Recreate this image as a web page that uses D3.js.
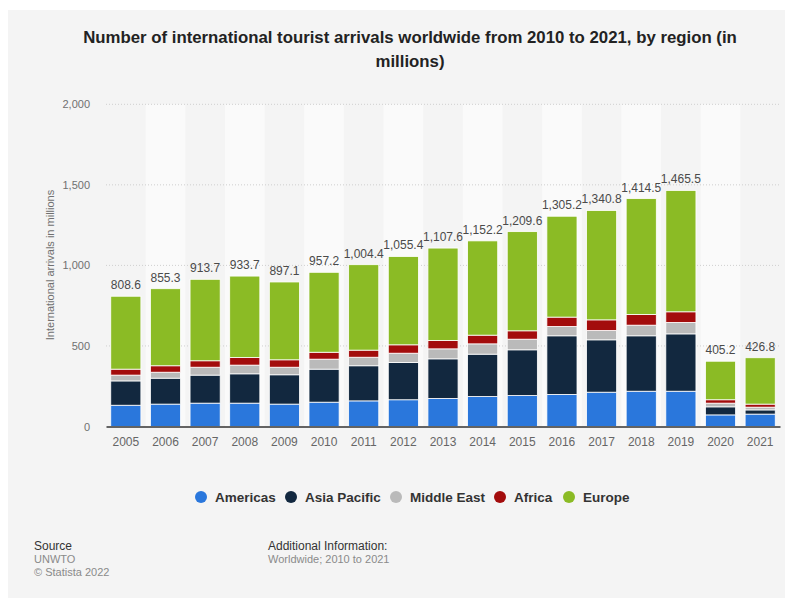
<html>
<head>
<style type="text/css">
	body { margin: 0; background: #fff; }
	.narrow { font-family: "Liberation Sans Narrow", "Arial Narrow", "Liberation Sans", Arial, sans-serif; }
	.num { font-family: "Liberation Sans", Arial, sans-serif; }
</style>
<script src="https://d3js.org/d3.v7.min.js"></script>
</head>
<body>
<script type="text/javascript">

	var years = ['2005', '2006', '2007', '2008', '2009', '2010', '2011', '2012', '2013',
		'2014', '2015', '2016', '2017', '2018', '2019', '2020', '2021'];
	var regions = ['Americas', 'Asia Pacific', 'Middle East', 'Africa', 'Europe'];
	var colors = ['#2a77dc', '#12283f', '#bababa', '#a30c0c', '#8bbb25'];

	var americas    = [132, 139, 145, 145, 139, 151, 159, 166, 174, 186, 192, 199, 213, 219, 219, 72, 77];
	var asiaPacific = [151, 161, 174, 182, 182, 205, 218, 231, 246, 263, 284, 364, 325, 344, 356, 50, 26];
	var middleEast  = [36, 37, 49, 54, 47, 62, 53, 58, 62, 64, 66, 58, 58, 66, 71, 23, 17];
	var africa      = [37, 40, 40, 47, 46, 43, 44, 52, 52, 54, 52, 58, 66, 66, 66, 21, 19];
	var europe      = [452.6, 478.3, 505.7, 505.7, 483.1, 496.2, 530.4, 548.4, 573.6, 585.2,
		615.6, 626.2, 678.8, 719.5, 753.5, 239.2, 287.8];
	var totals      = ['808.6', '855.3', '913.7', '933.7', '897.1', '957.2', '1,004.4', '1,055.4',
		'1,107.6', '1,152.2', '1,209.6', '1,305.2', '1,340.8', '1,414.5', '1,465.5', '405.2', '426.8'];
	var yTicks = [0, 500, 1000, 1500, 2000];

	var width = 785, height = 598;
	var plotLeft = 106, plotRight = 780, plotTop = 104.3, plotBottom = 426.5;

	var table = years.map(function(y, i) {
		return { year: y, 'Americas': americas[i], 'Asia Pacific': asiaPacific[i],
			'Middle East': middleEast[i], 'Africa': africa[i], 'Europe': europe[i], label: totals[i] };
	});
	var series = d3.stack().keys(regions)(table);

	var x = d3.scaleBand().domain(years).range([plotLeft, plotRight]).paddingInner(0.24).paddingOuter(0.12);
	var y = d3.scaleLinear().domain([0, 2000]).range([plotBottom, plotTop]);
	var color = d3.scaleOrdinal().domain(regions).range(colors);

	var svg = d3.select('body').append('svg')
		.attr('width', width)
		.attr('height', height);

	svg.append('rect')
		.attr('x', 8).attr('y', 10)
		.attr('width', width - 8).attr('height', height - 10)
		.attr('fill', '#f4f4f4');

	// alternating column shading
	var step = x.step(), gap = step - x.bandwidth();
	svg.append('g').selectAll('rect')
		.data(years.filter(function(d, i) { return i % 2 == 1; }))
		.enter().append('rect')
			.attr('x', function(d) { return x(d) - gap / 2; })
			.attr('y', plotTop)
			.attr('width', step)
			.attr('height', plotBottom - plotTop)
			.attr('fill', '#fafafa');

	// grid
	svg.append('g').selectAll('line')
		.data(yTicks.slice(1))
		.enter().append('line')
			.attr('x1', plotLeft).attr('x2', plotRight)
			.attr('y1', function(d) { return y(d); })
			.attr('y2', function(d) { return y(d); })
			.attr('stroke', '#cfcfcf')
			.attr('stroke-width', 1)
			.attr('stroke-dasharray', '1,2');

	var yAxis = d3.axisLeft(y).tickValues(yTicks).tickSize(0).tickPadding(0).tickFormat(d3.format(','));
	var ga = svg.append('g')
		.attr('transform', 'translate(90, 0)')
		.call(yAxis);
	ga.select('.domain').remove();
	ga.selectAll('text')
		.attr('class', 'num')
		.attr('font-size', 11)
		.attr('fill', '#707070');

	svg.append('text')
		.attr('class', 'narrow')
		.attr('transform', 'translate(54, 265) rotate(-90)')
		.attr('text-anchor', 'middle')
		.attr('font-size', 11)
		.attr('fill', '#707070')
		.text('International arrivals in millions');

	// bars
	svg.append('g').selectAll('g')
		.data(series)
		.enter().append('g')
			.attr('fill', function(d) { return color(d.key); })
		.selectAll('rect')
		.data(function(d) { return d; })
		.enter().append('rect')
			.attr('x', function(d) { return x(d.data.year); })
			.attr('y', function(d) { return y(d[1]); })
			.attr('width', x.bandwidth())
			.attr('height', function(d) { return y(d[0]) - y(d[1]); })
			.attr('stroke', '#ffffff')
			.attr('stroke-width', 0.8);

	// total labels
	var last = series[series.length - 1];
	svg.append('g').selectAll('text')
		.data(last)
		.enter().append('text')
			.attr('class', 'num')
			.attr('x', function(d) { return x(d.data.year) + x.bandwidth() / 2; })
			.attr('y', function(d) { return y(d[1]) - 7; })
			.attr('text-anchor', 'middle')
			.attr('font-size', 12)
			.attr('fill', '#4a4a4a')
			.text(function(d) { return d.data.label; });

	var xAxis = d3.axisBottom(x).tickSize(0).tickPadding(11);
	var gx = svg.append('g')
		.attr('transform', 'translate(0,' + plotBottom + ')')
		.call(xAxis);
	gx.select('.domain').attr('stroke', '#333').attr('stroke-width', 1.5);
	gx.selectAll('text')
		.attr('class', 'num')
		.attr('font-size', 12)
		.attr('fill', '#666');

	// title
	var title = svg.append('text')
		.attr('class', 'narrow')
		.attr('text-anchor', 'middle')
		.attr('font-size', 16.8)
		.attr('font-weight', 'bold')
		.attr('fill', '#222');
	title.append('tspan').attr('x', 410).attr('y', 43)
		.text('Number of international tourist arrivals worldwide from 2010 to 2021, by region (in');
	title.append('tspan').attr('x', 410).attr('y', 67).text('millions)');

	// legend
	var legendX = [201, 291, 396, 500, 569];
	var lg = svg.append('g').selectAll('g')
		.data(regions)
		.enter().append('g')
			.attr('transform', function(d, i) { return 'translate(' + legendX[i] + ', 497)'; });
	lg.append('circle')
		.attr('r', 6)
		.attr('fill', function(d) { return color(d); });
	lg.append('text')
		.attr('class', 'narrow')
		.attr('x', 14)
		.attr('y', 5)
		.attr('font-size', 13.5)
		.attr('font-weight', 'bold')
		.attr('fill', '#333')
		.text(function(d) { return d; });

	// footer
	var foot = [
		{ t: 'Source', x: 34, y: 550, c: '#333' },
		{ t: 'UNWTO', x: 34, y: 563, c: '#8a8a8a' },
		{ t: '\u00a9 Statista 2022', x: 34, y: 576, c: '#8a8a8a' },
		{ t: 'Additional Information:', x: 268, y: 550, c: '#333' },
		{ t: 'Worldwide; 2010 to 2021', x: 268, y: 563, c: '#8a8a8a' }
	];
	svg.append('g').selectAll('text')
		.data(foot)
		.enter().append('text')
			.attr('class', 'narrow')
			.attr('x', function(d) { return d.x; })
			.attr('y', function(d) { return d.y; })
			.attr('font-size', function(d) { return d.c == '#333' ? 12 : 11; })
			.attr('fill', function(d) { return d.c; })
			.text(function(d) { return d.t; });

</script>
</body>
</html>
